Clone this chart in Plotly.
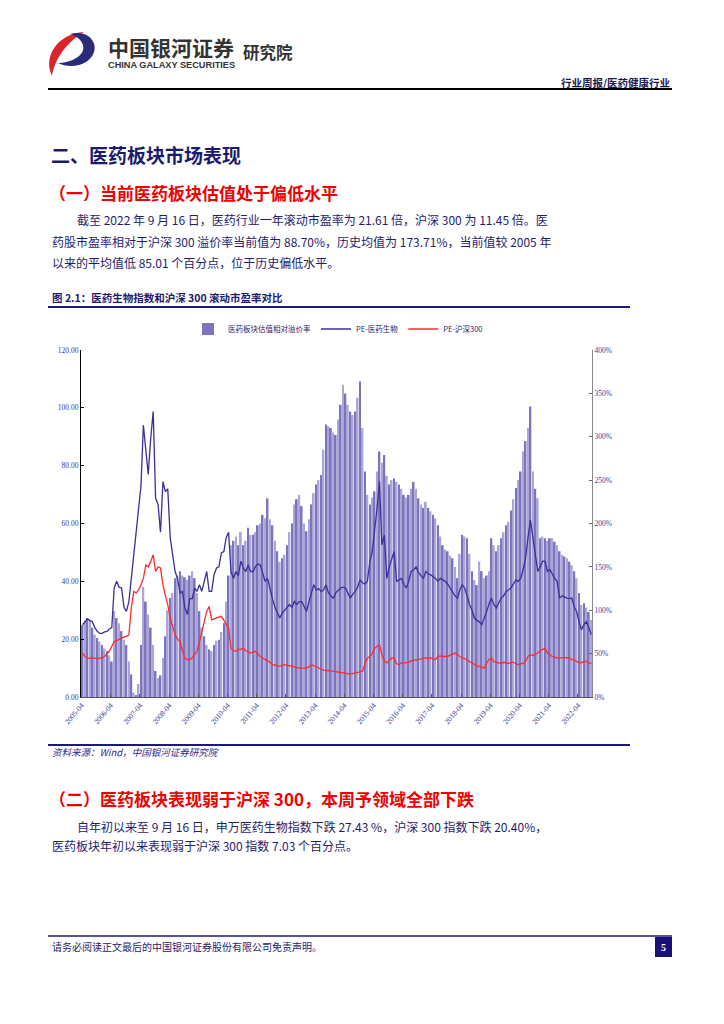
import pandas as pd
import plotly.graph_objects as go

# ---------------- data (monthly, 2005-04 .. 2022-09) ----------------
start_month = "2005-04-01"
n_months = 210

pe_pharma = [
    25, 26, 27, 26.5, 26, 24, 22.7, 22, 22,                                   # 2005 Apr-Dec
    22.5, 22.7, 23.5, 24, 37.7, 40, 38, 37.7, 31, 29.6, 33, 41,               # 2006
    49, 56, 64, 73, 94, 85, 77, 89.5, 98.7, 68.8, 66.5, 57,                   # 2007
    74.5, 71, 72, 55, 50, 43.4, 41, 36, 36.5, 30.8, 28.5, 34,                 # 2008
    34, 37.7, 36.5, 38.8, 36.5, 40, 43.4, 36.5, 36.5, 42.3, 44.6, 45,         # 2009
    49.8, 50.3, 55, 57, 43.4, 41, 43.4, 42, 47, 44.6, 43.4, 45.7,             # 2010
    43.4, 43.4, 45, 46, 45.7, 43, 40, 41, 37, 34, 31, 29,                     # 2011
    27.3, 29, 30, 30.8, 32, 31, 33, 32, 33, 33, 31, 29.6,                     # 2012
    33, 36, 38.8, 37, 37.5, 36.5, 37, 38.8, 36, 35, 34.2, 36,                 # 2013
    37, 37.7, 38, 37.7, 36, 34.2, 35.5, 36.5, 38, 40.5, 39.5, 39,             # 2014
    40, 46.9, 50, 57.3, 65, 74.5, 52.6, 56, 41, 45, 48, 50.3,                 # 2015
    40, 40.5, 41, 39, 37.7, 40, 43.4, 44, 45, 43, 42, 41,                     # 2016
    43.4, 42.5, 42.3, 41.7, 41, 40, 41, 40.5, 40, 39, 37.7, 36,               # 2017
    35, 34.2, 37, 38.8, 37.7, 35, 32, 30, 27.3, 26.5, 26, 25,                 # 2018
    27, 29.6, 32, 34.2, 32, 30.8, 32.5, 34.2, 35, 36.5, 37, 37.7,             # 2019
    39, 40.5, 40, 41, 44, 48, 55, 61.3, 55, 50, 43.4, 45,                     # 2020
    47, 46.9, 43.4, 44, 42.3, 41, 40, 34.2, 35, 34.5, 34.2, 34,               # 2021
    34.2, 31, 29.6, 26, 23.3, 25, 26, 24, 21.61,                              # 2022 Jan-Sep
]

pe_hs300 = [
    15.2, 14, 13.5, 13.3, 13.6, 13.5, 13.2, 13.4, 13.5,
    14, 15, 15.8, 17.5, 19.2, 19.5, 20, 20.4, 20.8, 21, 21.5, 30.8,
    36.5, 36, 37, 38.8, 41, 45.7, 45, 46.9, 49.2, 43.4, 45, 44.6,
    38.8, 35, 31.9, 27.3, 24, 21.5, 20, 19.2, 16, 13.5, 12.9, 13,
    13.5, 14.5, 15.8, 19, 22.7, 26, 29.6, 31.3, 26.7, 27, 27.3, 27.5,
    27.9, 26.5, 25, 23.8, 16.9, 16, 15.8, 16.5, 16.5, 16.9, 16, 15.5,
    15.2, 15.5, 15.8, 15, 14, 13.5, 12.9, 12.5, 12, 11.2, 11, 10.8,
    10.6, 11, 11.2, 11, 10.8, 10.6, 10.3, 10.1, 10, 10, 10, 10,
    10.5, 11.2, 10.8, 10.4, 10, 9.6, 9.3, 9.1, 9.2, 9, 8.9, 8.8,
    8.6, 8.5, 8.4, 8.3, 8.1, 7.9, 8.1, 8.4, 8.6, 8.8, 8.9, 11.5,
    13.5, 14, 15, 16.9, 17.5, 18.1, 14.6, 12.5, 11.8, 12.8, 13.5, 13.5,
    11.5, 11.2, 11.8, 11.8, 11.8, 12, 12.5, 12.7, 12.9, 13, 13.3, 13.5,
    13.5, 13.4, 13.5, 13.2, 12.9, 14, 14.2, 14, 14, 14, 14.5, 14.8,
    15.2, 14.5, 14, 13.5, 13.3, 12.8, 12.3, 12, 11.5, 10.8, 10.6, 10.2,
    10, 11.8, 13, 13.5, 12.2, 12, 11.8, 11.6, 12, 11.8, 11.6, 12,
    12, 11.5, 11.2, 11.5, 11.6, 12.3, 14, 14.6, 14.3, 14.8, 15.2, 16,
    16.5, 16.9, 15.2, 14.5, 14, 13.8, 13.5, 13.5, 13.4, 13.5, 13.6, 13.5,
    12.9, 12.8, 12.3, 11.8, 11.8, 12.3, 12.3, 11.8, 11.45,
]

premium_pct = [
    83, 88, 91, 88, 80, 72, 68, 64, 60,
    56, 53, 48, 41, 99, 91, 85, 76, 66, 60, 41, 26,
    5, 2, 15, 60, 127, 110, 95, 80, 60, 30, 22, 25,
    45, 70, 100, 114, 120, 137, 140, 145, 140, 138, 135, 140,
    145, 137, 120, 99, 80, 70, 60, 55, 53, 60, 65, 66,
    75, 85, 110, 140, 175, 180, 185, 175, 190, 175, 180, 195,
    187, 187, 190, 198, 200, 210, 206, 229, 205, 198, 180, 168,
    156, 160, 164, 175, 190, 200, 222, 228, 233, 220, 200, 191,
    205, 222, 235, 245, 250, 256, 285, 314, 312, 310, 305, 302,
    320, 337, 360, 350, 337, 329, 325, 329, 345, 364, 310, 260,
    233, 222, 230, 237, 260, 283, 270, 279, 255, 245, 250, 252,
    248, 245, 240, 233, 230, 233, 240, 248, 240, 229, 222, 218,
    225, 218, 214, 210, 206, 198, 185, 175, 170, 168, 163, 160,
    150, 137, 165, 187, 185, 183, 165, 145, 135, 129, 156, 145,
    137, 140, 145, 183, 175, 168, 175, 183, 190, 198, 202, 215,
    228, 241, 250, 260, 283, 295, 310, 335, 260, 240, 229, 183,
    185, 183, 180, 183, 183, 179, 175, 168, 164, 162, 160, 156,
    152, 145, 137, 120, 106, 108, 103, 98, 88.7,
]

tick_labels = [f"{y}-04" for y in range(2005, 2023)]
left_ticks = [0, 20, 40, 60, 80, 100, 120]
right_ticks = [0, 50, 100, 150, 200, 250, 300, 350, 400]

series_names = ["医药板块估值相对溢价率", "PE-医药生物", "PE-沪深300"]

# ---------------- figure ----------------
months = pd.date_range(start_month, periods=n_months, freq="MS") + pd.Timedelta(days=14)
OFF = 8                       # browser body margin
W, H = 724 - OFF, 1024 - OFF
L, R, T, B = 81, 592, 350, 697   # page pixel coordinates of plot area
NAVY = "#1c1a78"
TXT = "#1f1d6e"
FONT = "Noto Sans CJK SC"


def px(x):
    return (x - L) / (R - L)


def py(y):
    return (B - y) / (B - T)


bar_colors = ["#7c74bd" if i % 2 == 0 else "#aca6d8" for i in range(n_months)]

fig = go.Figure()
fig.add_trace(go.Bar(x=months, y=premium_pct, name=series_names[0],
                     marker=dict(color=bar_colors, line=dict(width=0)),
                     yaxis="y"))
fig.add_trace(go.Scatter(x=months, y=pe_pharma, name=series_names[1], mode="lines",
                         line=dict(color="#3b2f98", width=1.3), yaxis="y2"))
fig.add_trace(go.Scatter(x=months, y=pe_hs300, name=series_names[2], mode="lines",
                         line=dict(color="#ff2b2b", width=1.3), yaxis="y2"))

tick_font = dict(family="Liberation Serif", size=7.5, color="#3c3a96")

fig.update_layout(
    width=W, height=H,
    margin=dict(l=L - OFF, r=W - (R - OFF), t=T - OFF, b=H - (B - OFF), pad=0),
    paper_bgcolor="white", plot_bgcolor="white",
    bargap=0.22,
    showlegend=True,
    legend=dict(orientation="h", x=px(338), xanchor="center", y=py(329), yanchor="middle",
                font=dict(family=FONT, size=7.5, color=TXT), itemwidth=30,
                bgcolor="rgba(0,0,0,0)", traceorder="normal"),
    xaxis=dict(type="date", range=["2005-03-26", "2022-09-24"],
               tickvals=[f"{y}-04-01" for y in range(2005, 2023)], ticktext=tick_labels,
               tickangle=-50, tickfont=tick_font, showgrid=False, zeroline=False,
               showline=True, linecolor="#555555", linewidth=1,
               ticks="inside", ticklen=3, tickcolor="#555555"),
    yaxis=dict(range=[0, 400], side="right", tickvals=right_ticks,
               ticktext=[f"{v}%" for v in right_ticks], tickfont=tick_font,
               showgrid=False, zeroline=False, showline=True, linecolor="#888888",
               linewidth=1, ticks="inside", ticklen=3, tickcolor="#666666"),
    yaxis2=dict(range=[0, 120], overlaying="y", side="left", tickvals=left_ticks,
                tickformat=".2f", tickfont=tick_font, showgrid=False, zeroline=False,
                showline=True, linecolor="#000000", linewidth=1.2,
                ticks="inside", ticklen=3, tickcolor="#000000"),
)

shapes = []


def hline(x0, x1, y, color, width):
    shapes.append(dict(type="line", xref="paper", yref="paper",
                       x0=px(x0), x1=px(x1), y0=py(y), y1=py(y),
                       line=dict(color=color, width=width)))


hline(48, 672, 89, "#000000", 2)
hline(48, 630, 307, NAVY, 2.2)
hline(48, 630, 745, NAVY, 2.2)
hline(48, 672, 936, NAVY, 1.5)
shapes.append(dict(type="rect", xref="paper", yref="paper",
                   x0=px(655), x1=px(672), y0=py(937), y1=py(957),
                   fillcolor="#1a1078", line=dict(width=0)))


def path(cmds):
    out = []
    for cmd in cmds:
        if isinstance(cmd, str):
            out.append(cmd)
        else:
            out.append(f"{px(cmd[0]):.5f},{py(cmd[1]):.5f}")
    return " ".join(out)


# logo (simplified swirl)
red_logo = path(["M", (84, 32), "C", (60, 33), (42, 55), (52, 76),
                 "C", (54, 62), (64, 44), (84, 32), "Z"])
blue_logo = path(["M", (70, 34), "C", (92, 28), (104, 50), (86, 62),
                  "C", (78, 67), (66, 67), (58, 63),
                  "C", (70, 63), (86, 56), (83, 45),
                  "C", (81, 39), (76, 36), (70, 34), "Z"])
shapes.append(dict(type="path", xref="paper", yref="paper", path=red_logo,
                   fillcolor="#d8262c", line=dict(width=0)))
shapes.append(dict(type="path", xref="paper", yref="paper", path=blue_logo,
                   fillcolor="#2c2a7a", line=dict(width=0)))

fig.update_layout(shapes=shapes)

ann = []


def text(x, y, s, size, color=TXT, bold=False, anchor="left", family=FONT, italic=False):
    if bold:
        s = f"<b>{s}</b>"
    if italic:
        s = f"<i>{s}</i>"
    ann.append(dict(xref="paper", yref="paper", x=px(x), y=py(y), text=s,
                    showarrow=False, xanchor=anchor, yanchor="middle",
                    font=dict(family=family, size=size, color=color)))


text(106, 47, "中国银河证券", 21, "#333333", bold=True)
text(106, 65, "CHINA GALAXY SECURITIES", 9.2, "#333333", bold=True, family="Liberation Sans")
text(241, 52, "研究院", 16.5, "#333333", bold=True)
text(672, 82, "行业周报/医药健康行业", 10.5, "#1a1850", bold=True, anchor="right")

text(49, 155, "二、医药板块市场表现", 19, "#1c1a6e", bold=True)
text(47, 192, "（一）当前医药板块估值处于偏低水平", 17, "#f00000", bold=True)
text(75, 219, "截至 2022 年 9 月 16 日，医药行业一年滚动市盈率为 21.61 倍，沪深 300 为 11.45 倍。医", 12)
text(50, 241, "药股市盈率相对于沪深 300 溢价率当前值为 88.70%，历史均值为 173.71%，当前值较 2005 年", 12)
text(50, 262, "以来的平均值低 85.01 个百分点，位于历史偏低水平。", 12)
text(50, 297, "图 2.1：医药生物指数和沪深 300 滚动市盈率对比", 10.5, "#1c1a6e", bold=True)
text(50, 752, "资料来源：Wind，中国银河证券研究院", 9.5, "#2a2890", italic=True)
text(47, 798, "（二）医药板块表现弱于沪深 300，本周予领域全部下跌", 17, "#f00000", bold=True)
text(75, 826, "自年初以来至 9 月 16 日，申万医药生物指数下跌 27.43 %，沪深 300 指数下跌 20.40%，", 12)
text(50, 845, "医药板块年初以来表现弱于沪深 300 指数 7.03 个百分点。", 12)
text(50, 946, "请务必阅读正文最后的中国银河证券股份有限公司免责声明。", 10)
text(663.5, 947, "5", 10, "#ffffff", bold=True, anchor="center", family="Liberation Serif")

fig.update_layout(annotations=ann)

fig.write_html("out.html")
